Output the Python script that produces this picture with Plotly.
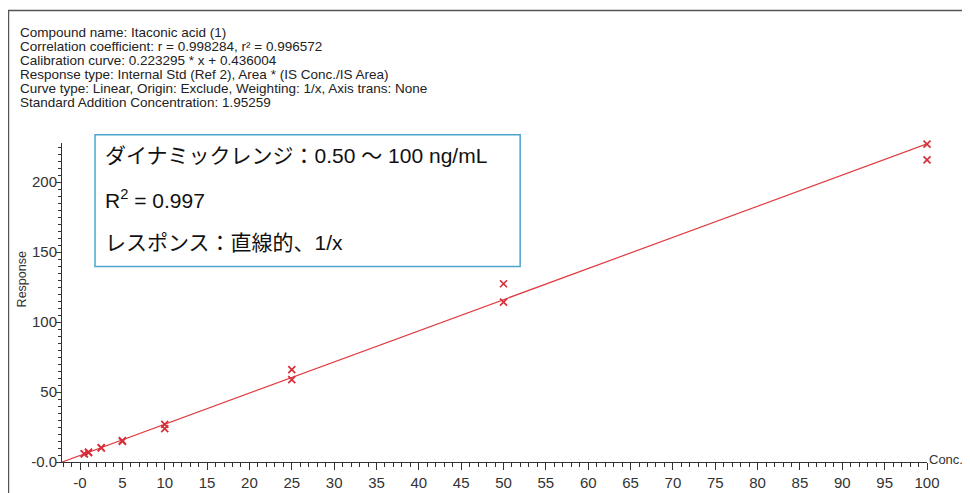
import plotly.graph_objects as go

# ---- data ----
conc = [0.5, 0.5, 1, 1, 2.5, 2.5, 5, 5, 10, 10, 25, 25, 50, 50, 100, 100]
response = [5.8, 5.9, 6.7, 7.0, 10.0, 10.3, 14.8, 15.3, 26.9, 23.8, 66.0, 58.9, 127.4, 114.3, 227.2, 216.0]
fit_slope = 2.227
fit_intercept = 4.68
x_range = [-2.13, 100]
y_range = [0, 228]
x_tickvals = [0, 5, 10, 15, 20, 25, 30, 35, 40, 45, 50, 55, 60, 65, 70, 75, 80, 85, 90, 95, 100]
x_ticktext = ["-0"] + [str(v) for v in x_tickvals[1:]]
y_tickvals = [0, 50, 100, 150, 200]
y_ticktext = ["-0.0", "50", "100", "150", "200"]
header_lines = [
    "Compound name: Itaconic acid (1)",
    "Correlation coefficient: r = 0.998284, r² = 0.996572",
    "Calibration curve: 0.223295 * x + 0.436004",
    "Response type: Internal Std (Ref 2), Area * (IS Conc./IS Area)",
    "Curve type: Linear, Origin: Exclude, Weighting: 1/x, Axis trans: None",
    "Standard Addition Concentration: 1.95259",
]
box_lines = [
    "ダイナミックレンジ：0.50 ～ 100 ng/mL",
    "R<sup>2</sup> = 0.997",
    "レスポンス：直線的、1/x",
]

# ---- geometry (reference pixel coords; page body has 8px margin) ----
OFF = 8
FW, FH = 970 - OFF, 493 - OFF
AX_L, AX_R, AX_T, AX_B = 62, 926.7, 142.5, 461.7
pw = AX_R - AX_L
ph = AX_B - AX_T

def px(xpix):
    return (xpix - AX_L) / pw

def py(ypix):
    return (AX_B - ypix) / ph

line_x = list(x_range)
line_y = [fit_slope * v + fit_intercept for v in line_x]

fig = go.Figure()
fig.add_trace(go.Scatter(x=line_x, y=line_y, mode="lines",
                         line=dict(color="#e0393e", width=1.2), hoverinfo="skip",
                         showlegend=False, cliponaxis=False))
fig.add_trace(go.Scatter(x=conc, y=response, mode="markers",
                         marker=dict(symbol="x-thin", size=7, line=dict(color="#d62f3a", width=1.7)),
                         showlegend=False, cliponaxis=False))

tickfont = dict(family="Arial, Liberation Sans, sans-serif", size=15, color="#333")
fig.update_xaxes(range=x_range, tickvals=x_tickvals, ticktext=x_ticktext,
                 showgrid=False, zeroline=False, showline=True, linecolor="#333", linewidth=1,
                 ticks="outside", ticklen=7, tickcolor="#333", tickwidth=1, tickfont=tickfont,
                 minor=dict(dtick=1, tick0=0, ticks="outside", ticklen=4, tickcolor="#333", tickwidth=1))
fig.update_yaxes(range=y_range, tickvals=y_tickvals, ticktext=y_ticktext,
                 showgrid=False, zeroline=False, showline=True, linecolor="#333", linewidth=1,
                 ticks="outside", ticklen=5, tickcolor="#333", tickwidth=1, tickfont=tickfont,
                 ticklabelstandoff=-4,
                 minor=dict(dtick=5, tick0=0, ticks="outside", ticklen=3, tickcolor="#333", tickwidth=1))

shapes = [
    # outer frame
    dict(type="rect", xref="paper", yref="paper", x0=px(8.5), x1=px(1100), y0=py(600), y1=py(10),
         line=dict(color="#555", width=1.5), fillcolor="rgba(0,0,0,0)", layer="below"),
    # blue text box
    dict(type="rect", xref="paper", yref="paper", x0=px(95), x1=px(520), y0=py(266), y1=py(134.3),
         line=dict(color="#4aa6cf", width=1.5), fillcolor="white", layer="above"),
]

annotations = []
for i, t in enumerate(header_lines):
    annotations.append(dict(text=t, xref="paper", yref="paper", x=px(18), y=py(32 + i * 14),
                            xanchor="left", yanchor="middle", showarrow=False,
                            font=dict(family="Arial, Liberation Sans, sans-serif", size=13.5, color="#222")))
for i, (t, yc) in enumerate(zip(box_lines, [155, 198.3, 241.7])):
    annotations.append(dict(text=t, xref="paper", yref="paper", x=px(103), y=py(yc),
                            xanchor="left", yanchor="middle", showarrow=False,
                            font=dict(family="Arial, Noto Sans CJK JP, sans-serif", size=21, color="#111")))
annotations.append(dict(text="Response", xref="paper", yref="paper", x=px(22), y=py(279),
                        xanchor="center", yanchor="middle", showarrow=False, textangle=-90,
                        font=dict(family="Arial, Liberation Sans, sans-serif", size=12.5, color="#333")))
annotations.append(dict(text="Conc.", xref="paper", yref="paper", x=px(927), y=py(459),
                        xanchor="left", yanchor="middle", showarrow=False,
                        font=dict(family="Arial, Liberation Sans, sans-serif", size=13, color="#333")))

fig.update_layout(width=FW, height=FH,
                  margin=dict(l=AX_L - OFF, r=970 - AX_R, t=AX_T - OFF, b=493 - AX_B, autoexpand=False),
                  paper_bgcolor="white", plot_bgcolor="white",
                  shapes=shapes, annotations=annotations)

fig.write_html("out.html")
